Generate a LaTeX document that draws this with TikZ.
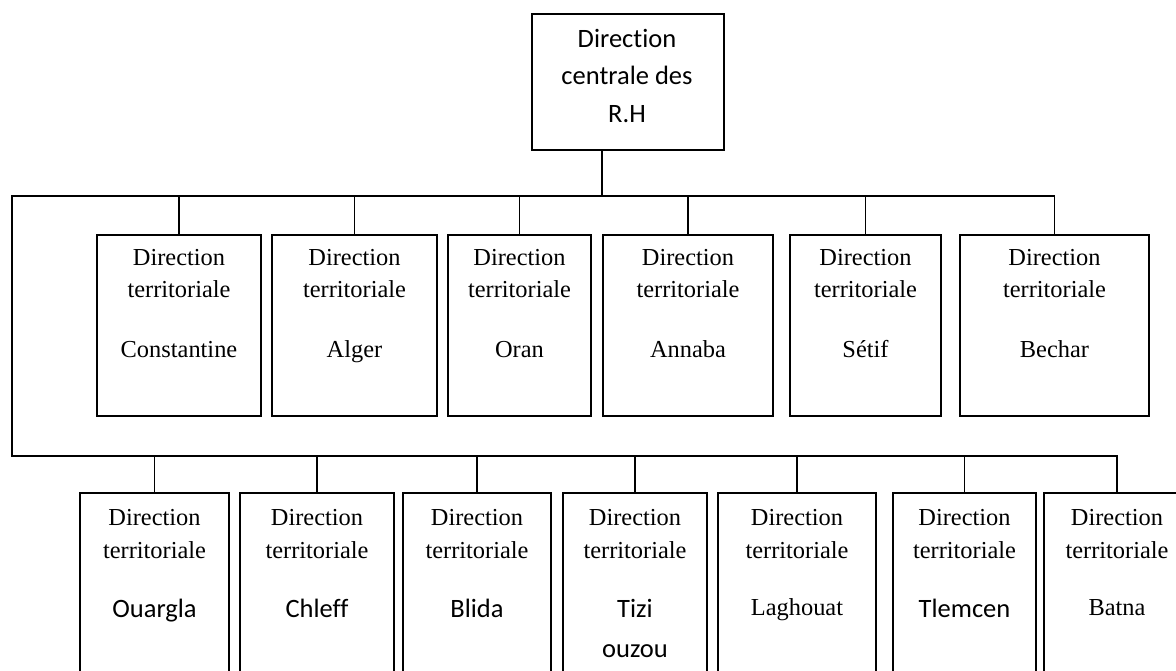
\documentclass[tikz,border=0pt]{standalone}
\usepackage{fontspec}
\setmainfont{Liberation Serif}
\newfontfamily\calfont[Ligatures={NoCommon}]{Carlito}
\begin{document}
\begin{tikzpicture}[x=1pt,y=-1pt,
  box/.style={draw,line width=2pt,rectangle,inner sep=0pt,anchor=north west},
  bus/.style={line width=2pt},
  link/.style={line width=1.4pt},
  tt/.style={anchor=base,inner sep=0pt,font=\fontsize{24.4}{28}\selectfont},
  ct/.style={anchor=base,inner sep=0pt,font=\calfont\fontsize{26.5}{30}\selectfont}]
\useasboundingbox (0,0) rectangle (1176,671);
\clip (0,0) rectangle (1176,671);
% top box
\node[box,minimum width=192pt,minimum height=136pt] (top) at (531,13) {};
\node[ct] (t1) at (627,48) {Direction};
\node[ct] (t2) at (627,85) {centrale des};
\node[ct] (t3) at (627,123) {R.H};
% upper row
\newcommand{\ubox}[5]{%
  \node[box,minimum width=#3pt,minimum height=181pt] (#1) at (#2,234) {};
  \node[tt] (#1a) at (#1.north |- 0,266) {Direction};
  \node[tt] (#1b) at (#1.north |- 0,298) {territoriale};
  \node[#5] (#1c) at (#1.north |- 0,357) {#4};}
\ubox{c1}{96}{164}{Constantine}{tt}
\ubox{c2}{271}{165}{Alger}{tt}
\ubox{c3}{447}{143}{Oran}{tt}
\ubox{c4}{602}{170}{Annaba}{tt}
\ubox{c5}{789}{151}{Sétif}{tt}
\ubox{c6}{959}{189}{Bechar}{tt}
% lower row
\newcommand{\lbox}[6]{%
  \node[box,minimum width=#3pt,minimum height=220pt] (#1) at (#2,492) {};
  \node[tt] (#1a) at (#1.north |- 0,525) {Direction};
  \node[tt] (#1b) at (#1.north |- 0,558) {territoriale};
  \node[#5] (#1c) at (#1.north |- 0,#6) {#4};}
\lbox{d1}{79}{149}{Ouargla}{ct}{617}
\lbox{d2}{239}{154}{Chleff}{ct}{617}
\lbox{d3}{402}{148}{Blida}{ct}{617}
\lbox{d4}{562}{144}{Tizi}{ct}{617}
\node[ct] (d4d) at (d4.north |- 0,657) {ouzou};
\lbox{d5}{717}{158}{Laghouat}{tt}{615}
\lbox{d6}{892}{143}{Tlemcen}{ct}{617}
\lbox{d7}{1043}{146}{Batna}{tt}{615}
% connectors
\coordinate (s) at (602,196);
\coordinate (ub) at (12,196);
\coordinate (lb) at (12,456);
\draw[bus] (top.south -| s) -- (s);
\draw[bus] (c6.north |- ub) -- (ub) -- (lb) -- (d7.north |- lb) -- (d7.north);
\foreach \n in {c1,c2,c3,c4,c5,c6}{\draw[link] (\n.north |- ub) -- (\n.north);}
\foreach \n in {d1,d2,d3,d4,d5,d6}{\draw[link] (\n.north |- lb) -- (\n.north);}
\end{tikzpicture}
\end{document}
